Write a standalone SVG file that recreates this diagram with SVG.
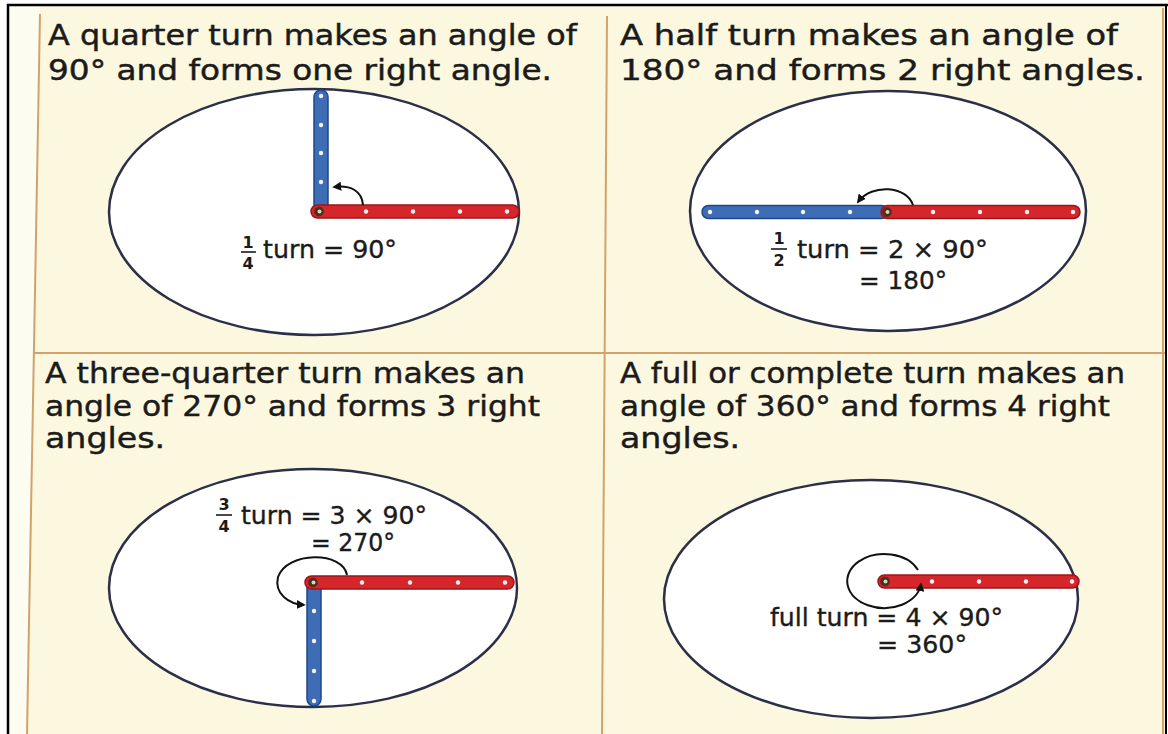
<svg xmlns="http://www.w3.org/2000/svg" width="1168" height="734" viewBox="0 0 1168 734">
<style>
.title{font-family:"DejaVu Sans","Liberation Sans",sans-serif;font-size:28px;fill:#1b1b1b;stroke:#1b1b1b;stroke-width:0.45}
.title2{font-family:"DejaVu Sans","Liberation Sans",sans-serif;font-size:29px;fill:#1b1b1b;stroke:#1b1b1b;stroke-width:0.45}
.lab{font-family:"DejaVu Sans","Liberation Sans",sans-serif;font-size:24px;fill:#1b1b1b;stroke:#1b1b1b;stroke-width:0.35}
.frac{font-family:"DejaVu Sans","Liberation Sans",sans-serif;font-size:16px;fill:#1b1b1b;text-anchor:middle;font-weight:bold}
.disc{fill:#ffffff;stroke:#2b2f48;stroke-width:2.5}
.red{fill:#d5262b;stroke:#9b161b;stroke-width:1.5}
.blue{fill:#3e6db5;stroke:#1d4789;stroke-width:1.5}
.dot{fill:#f6f2f0}
.pivot{fill:#3a3326;stroke:#8c1c1c;stroke-width:1}
.pivc{fill:#d8d7a8}
.arr{fill:none;stroke:#111;stroke-width:2}
.bar{stroke:#1b1b1b;stroke-width:1.6}
.div{stroke:#d2a26c;stroke-width:2;fill:none}
</style>
<defs>
<marker id="ah" viewBox="0 0 10 10" refX="8" refY="5" markerWidth="9" markerHeight="9" markerUnits="userSpaceOnUse" orient="auto">
<path d="M0,0 L10,5 L0,10 Z" fill="#111"/>
</marker>
</defs>
<rect width="1168" height="734" fill="#ffffff"/>
<rect x="9" y="6" width="1157" height="728" fill="#fcf8e0"/>
<path d="M9,6 L40,6 L27,734 L9,734 Z" fill="#fdfcf1"/>
<g id="frame">
<line class="div" x1="40" y1="14" x2="27" y2="734"/>
<line class="div" x1="607" y1="16" x2="602" y2="734"/>
<line class="div" x1="33" y1="353" x2="1165" y2="353"/>
<line class="div" x1="1163" y1="8" x2="1163" y2="734" stroke-width="1.2"/>
<line x1="7" y1="5" x2="1168" y2="5" stroke="#000" stroke-width="2.5"/>
<line x1="8" y1="4" x2="8" y2="734" stroke="#000" stroke-width="2.5"/>
<line x1="1166" y1="4" x2="1166" y2="734" stroke="#000" stroke-width="2"/>
</g>

<g id="panel-quarter">
<text class="title" x="48" y="45" textLength="529" lengthAdjust="spacingAndGlyphs">A quarter turn makes an angle of</text>
<text class="title" x="48" y="80" textLength="504" lengthAdjust="spacingAndGlyphs">90° and forms one right angle.</text>
<ellipse class="disc" cx="314" cy="212" rx="205" ry="123"/>
<rect class="blue" x="314" y="90" width="14" height="126" rx="7"/>
<circle class="dot" cx="321" cy="96" r="2.2"/><circle class="dot" cx="321" cy="125" r="2.2"/><circle class="dot" cx="321" cy="153" r="2.2"/><circle class="dot" cx="321" cy="182" r="2.2"/>
<rect class="red" x="311" y="205" width="208" height="13" rx="6.5"/>
<circle class="dot" cx="366" cy="211.5" r="2.2"/><circle class="dot" cx="413" cy="211.5" r="2.2"/><circle class="dot" cx="460" cy="211.5" r="2.2"/><circle class="dot" cx="507" cy="211.5" r="2.2"/>
<circle class="pivot" cx="319" cy="211.5" r="4.5"/><circle class="pivc" cx="319.5" cy="211.5" r="2"/>
<text class="frac" x="248" y="248">1</text>
<line class="bar" x1="241" y1="252" x2="256" y2="252"/>
<text class="frac" x="248" y="269">4</text>
<text class="lab" x="263" y="258" textLength="134" lengthAdjust="spacingAndGlyphs">turn = 90°</text>
</g>

<g id="panel-half">
<text class="title" x="620" y="45" textLength="498" lengthAdjust="spacingAndGlyphs">A half turn makes an angle of</text>
<text class="title" x="620" y="80" textLength="525" lengthAdjust="spacingAndGlyphs">180° and forms 2 right angles.</text>
<ellipse class="disc" cx="888" cy="211" rx="198" ry="120"/>
<rect class="blue" x="702" y="205.5" width="186" height="13" rx="6.5"/>
<circle class="dot" cx="710" cy="212" r="2.2"/><circle class="dot" cx="757" cy="212" r="2.2"/><circle class="dot" cx="803" cy="212" r="2.2"/><circle class="dot" cx="850" cy="212" r="2.2"/>
<rect class="red" x="881" y="205.5" width="199" height="13" rx="6.5"/>
<circle class="dot" cx="933" cy="212" r="2.2"/><circle class="dot" cx="980" cy="212" r="2.2"/><circle class="dot" cx="1027" cy="212" r="2.2"/><circle class="dot" cx="1073" cy="212" r="2.2"/>
<circle class="pivot" cx="887" cy="212" r="4.5"/><circle class="pivc" cx="887.5" cy="212" r="2"/>
<text class="frac" x="779" y="244">1</text>
<line class="bar" x1="771" y1="249" x2="787" y2="249"/>
<text class="frac" x="779" y="266">2</text>
<text class="lab" x="797" y="258" textLength="191" lengthAdjust="spacingAndGlyphs">turn = 2 × 90°</text>
<text class="lab" x="859" y="289" textLength="88" lengthAdjust="spacingAndGlyphs">= 180°</text>
</g>

<g id="panel-three-quarter">
<text class="title2" x="45" y="383" textLength="480" lengthAdjust="spacingAndGlyphs">A three-quarter turn makes an</text>
<text class="title2" x="45" y="416" textLength="495" lengthAdjust="spacingAndGlyphs">angle of 270° and forms 3 right</text>
<text class="title2" x="45" y="448" textLength="120" lengthAdjust="spacingAndGlyphs">angles.</text>
<ellipse class="disc" cx="313" cy="588" rx="204" ry="119"/>
<rect class="blue" x="307" y="578" width="14" height="128" rx="7"/>
<circle class="dot" cx="314" cy="611" r="2.2"/><circle class="dot" cx="314" cy="641" r="2.2"/><circle class="dot" cx="314" cy="671" r="2.2"/><circle class="dot" cx="314" cy="701" r="2.2"/>
<rect class="red" x="305" y="576" width="209" height="13" rx="6.5"/>
<circle class="dot" cx="362" cy="582.5" r="2.2"/><circle class="dot" cx="410" cy="582.5" r="2.2"/><circle class="dot" cx="458" cy="582.5" r="2.2"/><circle class="dot" cx="505" cy="582.5" r="2.2"/>
<circle class="pivot" cx="313" cy="582.5" r="4.5"/><circle class="pivc" cx="313.5" cy="582.5" r="2"/>
<text class="frac" x="224" y="510">3</text>
<line class="bar" x1="216" y1="515" x2="232" y2="515"/>
<text class="frac" x="224" y="532">4</text>
<text class="lab" x="241" y="524" textLength="186" lengthAdjust="spacingAndGlyphs">turn = 3 × 90°</text>
<text class="lab" x="311" y="551" textLength="84" lengthAdjust="spacingAndGlyphs">= 270°</text>
</g>

<g id="panel-full">
<text class="title2" x="620" y="383" textLength="505" lengthAdjust="spacingAndGlyphs">A full or complete turn makes an</text>
<text class="title2" x="620" y="416" textLength="490" lengthAdjust="spacingAndGlyphs">angle of 360° and forms 4 right</text>
<text class="title2" x="620" y="448" textLength="120" lengthAdjust="spacingAndGlyphs">angles.</text>
<ellipse class="disc" cx="871" cy="599" rx="207" ry="119"/>
<rect class="red" x="878" y="575" width="201" height="13" rx="6.5"/>
<circle class="dot" cx="932" cy="581.5" r="2.2"/><circle class="dot" cx="979" cy="581.5" r="2.2"/><circle class="dot" cx="1026" cy="581.5" r="2.2"/><circle class="dot" cx="1072" cy="581.5" r="2.2"/>
<circle class="pivot" cx="885" cy="581.5" r="4.5"/><circle class="pivc" cx="885.5" cy="581.5" r="2"/>
<text class="lab" x="770" y="626" textLength="233" lengthAdjust="spacingAndGlyphs">full turn = 4 × 90°</text>
<text class="lab" x="877" y="653" textLength="90" lengthAdjust="spacingAndGlyphs">= 360°</text>
</g>

<g id="connectors">
<path class="arr" d="M363,205 C362,191 351,185 334,187" marker-end="url(#ah)"/>
<path class="arr" d="M913,205 C907,186 872,183 858,202" marker-end="url(#ah)"/>
<path class="arr" d="M347,575 C343,551 287,551 278,577 C274,594 289,604 304,605" marker-end="url(#ah)"/>
<path class="arr" d="M918,570 A37 27 0 1 0 921,584" marker-end="url(#ah)"/>
</g>
</svg>
